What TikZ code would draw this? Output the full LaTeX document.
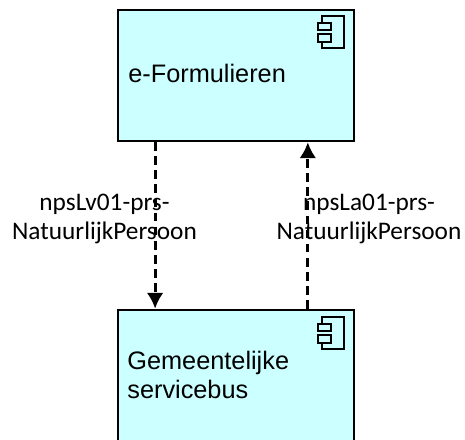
\documentclass[tikz,border=0pt]{standalone}
\usepackage{fontspec}
\setmainfont{Liberation Sans}
\newfontfamily\flowfont{Carlito}
\usetikzlibrary{arrows.meta, positioning, calc}
\definecolor{compfill}{HTML}{CCFFFF}
\tikzset{
    compbox/.style={draw, line width=1.5pt, fill=compfill, minimum width=4.72cm, minimum height=2.62cm, inner sep=0pt},
    compname/.style={align=left, anchor=west, inner sep=0pt, font=\fontsize{14.4}{17}\selectfont},
    flowlabel/.style={align=center, inner sep=0pt, font=\flowfont\fontsize{14.4}{16.4}\selectfont},
    flow/.style={dash pattern=on 5pt off 3pt, line width=1.6pt, -{Latex[length=9pt,width=9.5pt]}},
    pics/compicon/.style={code={
        \draw[line width=1.2pt] (-0.44,-0.12) -- (-0.44,0) -- (0,0) -- (0,-0.64) -- (-0.44,-0.64) -- (-0.44,-0.52);
        \draw[line width=1.2pt,fill=compfill] (-0.52,-0.14) rectangle (-0.26,-0.28);
        \draw[line width=1.2pt,fill=compfill] (-0.52,-0.36) rectangle (-0.26,-0.52);
    }}
}
\begin{document}
\begin{tikzpicture}
\useasboundingbox (0,0) rectangle (9.3,8.78);
\clip (0,0) rectangle (9.3,8.78);

% Components
\node[compbox] (formulieren) at (4.72,7.27) {};
\node[compbox] (servicebus) at (4.72,1.27) {};
\pic at (6.88,8.46) {compicon};
\pic at (6.88,2.44) {compicon};
\node[compname] (formname) at (2.56,7.32) {e-Formulieren};
\node[compname] (busname) at (2.54,1.28) {Gemeentelijke\\servicebus};

% Flows
\coordinate (lvtop) at ($(formulieren.south west)!0.161!(formulieren.south east)$);
\coordinate (lvbot) at ($(servicebus.north west)!0.161!(servicebus.north east)$);
\coordinate (latop) at ($(formulieren.south west)!0.801!(formulieren.south east)$);
\coordinate (labot) at ($(servicebus.north west)!0.801!(servicebus.north east)$);
\draw[flow] (lvtop) -- (lvbot);
\draw[flow] (labot) -- (latop);
\node[flowlabel] (lvname) at (2.09,4.40) {npsLv01-prs-\\NatuurlijkPersoon};
\node[flowlabel] (laname) at (7.38,4.40) {npsLa01-prs-\\NatuurlijkPersoon};
\end{tikzpicture}
\end{document}
